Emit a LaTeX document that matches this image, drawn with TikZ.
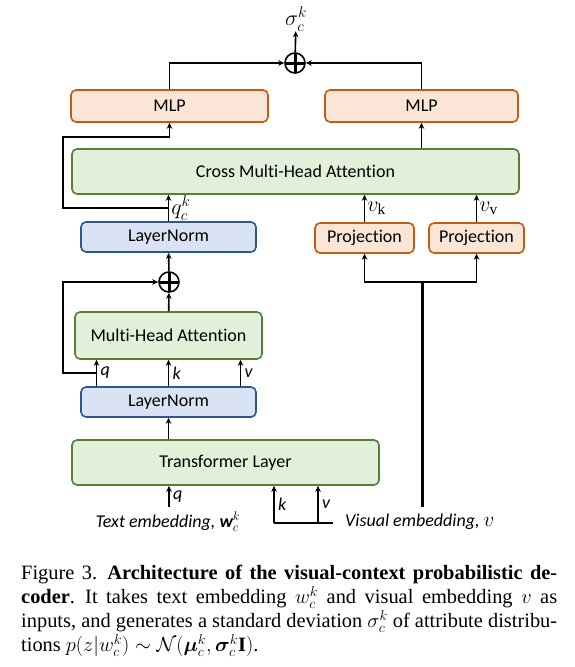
\RequirePackage{fix-cm}
\documentclass[tikz,border=0pt]{standalone}
\usepackage{amsmath,amssymb}
\usepackage{bm}
\usepackage{fontspec}
\setmainfont{Liberation Serif}
\newfontfamily\boxfont[Ligatures=NoCommon]{Carlito}
\usepackage{xcolor}
\usetikzlibrary{arrows.meta,positioning,calc}

\definecolor{grnfill}{HTML}{E2EFDA}
\definecolor{grnline}{HTML}{548235}
\definecolor{bluefill}{HTML}{DAE3F3}
\definecolor{blueline}{HTML}{2F5597}
\definecolor{orgfill}{HTML}{FBE5D6}
\definecolor{orgline}{HTML}{C55A11}

\begin{document}
\begin{tikzpicture}[x=1pt, y=-1pt,
  blk/.style={rectangle, draw, rounded corners=5pt, line width=1.6pt,
              inner sep=0pt, font=\boxfont\fontsize{18}{21}\selectfont},
  attn/.style={blk, fill=grnfill, draw=grnline},
  norm/.style={blk, fill=bluefill, draw=blueline},
  proj/.style={blk, fill=orgfill, draw=orgline},
  plus/.style={circle, draw, line width=1.6pt, minimum size=20pt,
               inner sep=0pt, fill=white,
               path picture={\draw[line width=3pt]
                 (path picture bounding box.north) -- (path picture bounding box.south)
                 (path picture bounding box.west) -- (path picture bounding box.east);}},
  arr/.style={-{Stealth[length=6pt,width=5.5pt]}, line width=1.6pt},
  lbl/.style={font=\boxfont\itshape\fontsize{18}{21}\selectfont},
  mlbl/.style={font=\fontsize{22}{25}\selectfont, inner sep=2pt}
]
\useasboundingbox (0,0) rectangle (574,667);

% blocks
\node[proj, minimum width=197pt, minimum height=32pt] (mlpL) at (169.5,106) {MLP};
\node[proj, minimum width=193pt, minimum height=32pt] (mlpR) at (421.5,106) {MLP};
\node[attn, minimum width=447pt, minimum height=45pt] (cmha) at (295.5,171.5) {Cross Multi-Head Attention};
\node[norm, minimum width=175pt, minimum height=30pt] (ln1)  at (168.5,237) {LayerNorm};
\node[proj, minimum width=99pt,  minimum height=30pt] (proj1) at (364.5,238) {Projection};
\node[proj, minimum width=95pt,  minimum height=30pt] (proj2) at (476.5,238) {Projection};
\node[attn, minimum width=187pt, minimum height=47pt] (mha)  at (168.5,335.5) {Multi-Head Attention};
\node[norm, minimum width=175pt, minimum height=30pt] (ln2)  at (168.5,402) {LayerNorm};
\node[attn, minimum width=307pt, minimum height=45pt] (trans) at (225.5,462.5) {Transformer Layer};

\node[plus] (add1) at (295,63) {};
\node[plus] (add2) at (169,282) {};
\node[mlbl, inner sep=0pt] (sig) at (296,19) {$\sigma_c^k$};

% inputs
\node[lbl] (txtemb) at (168,522) {Text embedding, \textbf{\textit{w}}$_c^k$};
\node[lbl, anchor=west, inner sep=0pt] (visemb) at (345,522) {Visual embedding, {\fontsize{21}{21}\selectfont$v$}};
\coordinate (qin)  at (169,507);
\coordinate (kin)  at (274,523);
\coordinate (vin)  at (318,523);
\coordinate (kvE)  at (333,523);
\coordinate (visBot) at (422,507);
\coordinate (visTop) at (422,282);
\coordinate (byL)  at (63,137);
\coordinate (skL)  at (63,282);
\coordinate (qc)   at ($(ln1.north)!0.5!(ln1.north |- cmha.south)$);
\coordinate (qsk)  at ($([xshift=-72pt]ln2.north)!0.5!([xshift=-72pt]mha.south)$);

% connectors
\draw[arr] (add1) -- (sig);
\draw[arr] (mlpL.north) |- (add1.west);
\draw[arr] (mlpR.north) |- (add1.east);
\draw[arr] (mlpR.south |- cmha.north) -- (mlpR.south);
\draw[arr] (ln1.north) -- (ln1.north |- cmha.south)
  node[right, mlbl, midway]{$q_c^k$};
\draw[arr] (qc) -| (byL) -| (mlpL.south);
\draw[arr] (proj1.north) -- (proj1.north |- cmha.south)
  node[right, mlbl, midway]{$v_{\mathrm{k}}$};
\draw[arr] (proj2.north) -- (proj2.north |- cmha.south)
  node[right, mlbl, midway]{$v_{\mathrm{v}}$};
\draw[line width=3pt] (visBot) -- (visTop);
\draw[arr] (visTop) -| (proj1.south);
\draw[arr] (visTop) -| (proj2.south);
\draw[arr] (add2) -- (ln1);
\draw[arr] (mha) -- (add2);
\draw[arr] (qsk) -| (skL) -- (add2.west);
\draw[arr] ([xshift=-72pt]ln2.north) -- ([xshift=-72pt]mha.south)
  node[right, lbl, midway]{q};
\draw[arr] (ln2.north) -- (mha.south)
  node[right, lbl, midway]{k};
\draw[arr] ([xshift=72pt]ln2.north) -- ([xshift=72pt]mha.south)
  node[right, lbl, midway]{v};
\draw[arr] (ln2.south |- trans.north) -- (ln2.south);
\draw[arr] (qin) -- (qin |- trans.south) node[right, lbl, midway]{q};
\draw[line width=1.6pt] (kin) -- (kvE);
\draw[arr] (kin) -- (kin |- trans.south) node[right, lbl, midway]{k};
\draw[arr] (vin) -- (vin |- trans.south) node[right, lbl, midway]{v};

% caption
\node[anchor=north west, align=left, inner sep=0pt,
      font=\fontsize{20.4}{24}\selectfont] (caption) at (21,565)
  {\makebox[536pt][s]{Figure 3.\enspace\textbf{Architecture of the visual-context probabilistic de-}}\\
   \makebox[536pt][s]{\textbf{coder}.\enspace It takes text embedding $w_c^k$ and visual embedding $v$ as}\\
   \makebox[536pt][s]{inputs, and generates a standard deviation $\sigma_c^k$ of attribute distribu-}\\
   tions $p(z|w_c^k)\sim\mathcal{N}(\bm{\mu}_c^k,\bm{\sigma}_c^k\mathbf{I})$.};
\end{tikzpicture}
\end{document}
